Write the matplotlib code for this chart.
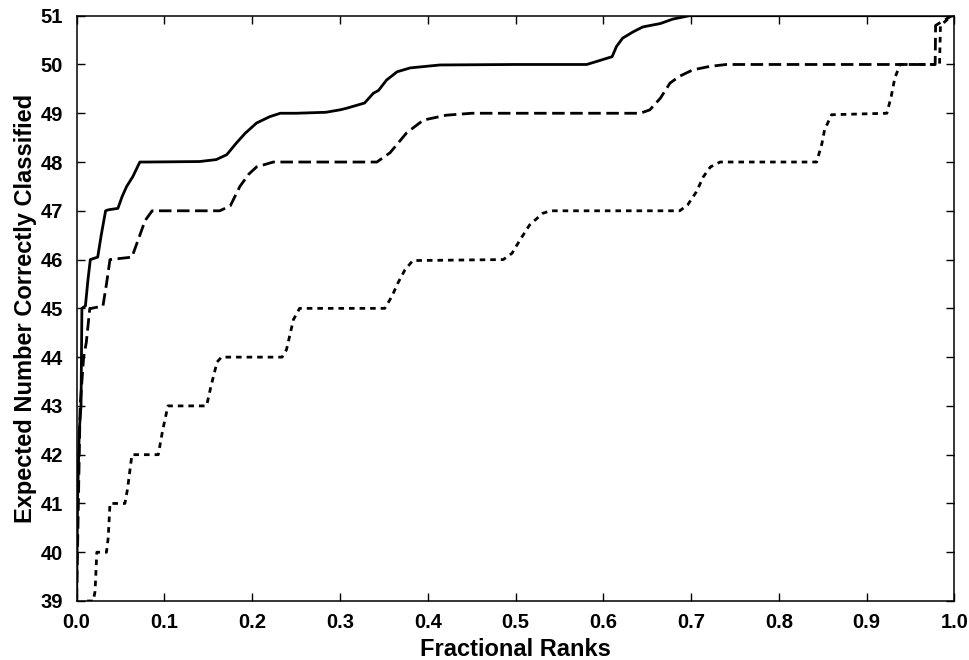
import matplotlib
matplotlib.use("Agg")
import matplotlib.pyplot as plt

plt.rcParams['font.family'] = ['Liberation Sans', 'DejaVu Sans']
plt.rcParams['font.weight'] = 'bold'

# solid curve
solid_x = [0.0, 0.001, 0.003, 0.005, 0.006, 0.010, 0.013, 0.0156, 0.024, 0.028, 0.033, 0.036,
           0.047, 0.052, 0.057, 0.064, 0.072, 0.08, 0.14, 0.159, 0.171, 0.182, 0.192, 0.205,
           0.22, 0.232, 0.25, 0.284, 0.3, 0.307, 0.328, 0.338, 0.344, 0.353, 0.365, 0.38,
           0.414, 0.5, 0.581, 0.592, 0.61, 0.615, 0.622, 0.634, 0.645, 0.665, 0.679, 0.698,
           0.75, 1.0]
solid_y = [39, 41, 42.5, 43, 45, 45.05, 45.6, 46, 46.05, 46.5, 47, 47.02,
           47.05, 47.3, 47.5, 47.7, 48, 48, 48.01, 48.05, 48.15, 48.39, 48.59, 48.8,
           48.93, 49, 49, 49.02, 49.07, 49.1, 49.21, 49.41, 49.47, 49.68, 49.85, 49.93,
           49.99, 50, 50.0, 50.06, 50.16, 50.37, 50.54, 50.67, 50.77, 50.84, 50.93, 51,
           51, 51]

# dashed curve
dashed_x = [0.0, 0.002, 0.004, 0.008, 0.011, 0.015, 0.017, 0.030, 0.034, 0.038, 0.063, 0.068,
            0.072, 0.078, 0.086, 0.10, 0.163, 0.175, 0.186, 0.196, 0.205, 0.224, 0.3, 0.342,
            0.357, 0.376, 0.395, 0.421, 0.45, 0.642, 0.653, 0.665, 0.676, 0.687, 0.702, 0.721,
            0.74, 0.978, 0.9785, 0.983, 0.997, 1.0]
dashed_y = [39, 41, 43, 44, 44.3, 45, 45, 45.05, 45.5, 46, 46.05, 46.3,
            46.5, 46.8, 47, 47, 47, 47.1, 47.5, 47.75, 47.9, 48, 48, 48,
            48.19, 48.6, 48.86, 48.96, 49, 49, 49.07, 49.31, 49.62, 49.76, 49.89, 49.96,
            50, 50, 50.8, 50.85, 51, 51]

# dotted curve
dotted_x = [0.012, 0.019, 0.021, 0.023, 0.034, 0.036, 0.038, 0.055, 0.058, 0.063, 0.093, 0.098,
            0.104, 0.148, 0.153, 0.160, 0.165, 0.234, 0.239, 0.247, 0.254, 0.351, 0.359, 0.366,
            0.374, 0.383, 0.486, 0.496, 0.505, 0.516, 0.531, 0.54, 0.687, 0.696, 0.706, 0.714,
            0.722, 0.733, 0.843, 0.849, 0.852, 0.86, 0.923, 0.928, 0.932, 0.938, 0.983, 0.984,
            0.997, 1.0]
dotted_y = [39, 39, 39.2, 40, 40, 40.3, 41, 41, 41.3, 42, 42, 42.5,
            43, 43, 43.4, 43.9, 44, 44, 44.15, 44.77, 45, 45, 45.24, 45.52,
            45.79, 45.98, 46, 46.13, 46.4, 46.71, 46.95, 47, 47, 47.12, 47.39, 47.7,
            47.9, 48, 48, 48.38, 48.66, 48.97, 49, 49.35, 49.72, 50, 50, 50.8,
            51, 51]

xticks = [0.0, 0.1, 0.2, 0.3, 0.4, 0.5, 0.6, 0.7, 0.8, 0.9, 1.0]
yticks = list(range(39, 52))

fig = plt.figure(figsize=(9.7, 6.6), dpi=100)
ax = fig.add_axes([0.079, 0.0894, 0.905, 0.8868])

ax.plot(solid_x, solid_y, color='black', lw=2.0, linestyle='-')
ax.plot(dashed_x, dashed_y, color='black', lw=2.0, linestyle=(0, (4.5, 2.0)))
ax.plot(dotted_x, dotted_y, color='black', lw=2.0, linestyle=(0, (2.0, 1.8)))

ax.set_xlim(0, 1)
ax.set_ylim(39, 51)
ax.set_xticks(xticks)
ax.set_yticks(yticks)
ax.set_xticklabels(['%.1f' % t for t in xticks])
ax.tick_params(direction='in', length=5.5, width=1.0, labelsize=14.5,
               top=True, right=True)
ax.tick_params(axis='y', pad=10)
ax.tick_params(axis='x', pad=9)
for sp in ax.spines.values():
    sp.set_linewidth(1.1)

ax.set_xlabel('Fractional Ranks', fontsize=17, fontweight='bold', labelpad=4)
ax.set_ylabel('Expected Number Correctly Classified', fontsize=17, fontweight='bold', labelpad=2)

fig.savefig('out.png', dpi=100)
